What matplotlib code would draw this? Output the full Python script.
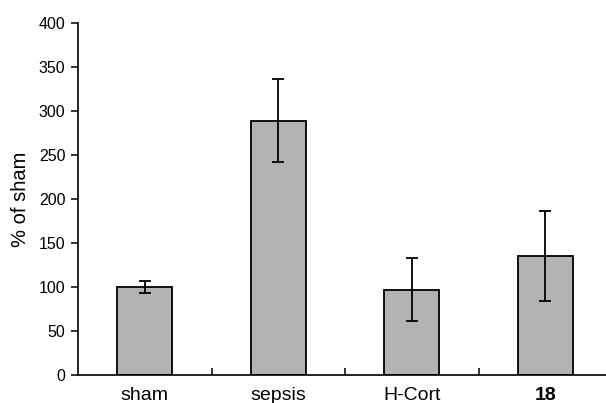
import numpy as np
import matplotlib.pyplot as plt

# Data
GROUPS = ['sham', 'sepsis', 'H-Cort', '18']
MEANS = [100, 289, 97, 135]
ERRORS = [7, 47, 36, 51]

plt.rcParams['font.family'] = ['Liberation Sans', 'DejaVu Sans']

fig = plt.figure(figsize=(6.06, 4.03), dpi=100)
ax = fig.add_axes([78 / 606, 1 - 375 / 403, (606 - 78) / 606, (375 - 23) / 403])

x = np.arange(len(GROUPS))
ax.bar(x, MEANS, width=0.41, color='#b3b3b3', edgecolor='black', linewidth=1.3,
       yerr=ERRORS, capsize=4.5, error_kw=dict(elinewidth=1.3, capthick=1.3, ecolor='black'),
       zorder=2)

ax.set_xlim(-0.5, 3.455)
ax.set_ylim(0, 400)
ax.set_yticks(np.arange(0, 401, 50))
ax.tick_params(axis='y', direction='out', length=5, width=1.1, labelsize=11.5, pad=4)

# category labels without ticks, small inward ticks at category boundaries
ax.set_xticks(x)
ax.set_xticklabels(GROUPS, fontsize=14)
ax.get_xticklabels()[3].set_fontweight('bold')
ax.tick_params(axis='x', which='major', length=0, pad=9)
ax.set_xticks(x[:-1] + 0.5, minor=True)
ax.tick_params(axis='x', which='minor', direction='in', length=5, width=1.1)

ax.set_ylabel('% of sham', fontsize=14.5, labelpad=6)

for side in ['top', 'right']:
    ax.spines[side].set_visible(False)
for side in ['left', 'bottom']:
    ax.spines[side].set_linewidth(1.2)

fig.savefig('out.png', dpi=100)
